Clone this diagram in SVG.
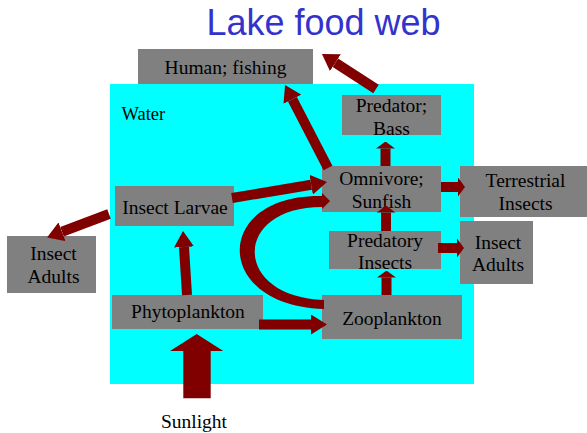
<svg xmlns="http://www.w3.org/2000/svg" width="587" height="433" viewBox="0 0 587 433">
<style>
.box{fill:#808080}
.t{font-family:"Liberation Serif","Times New Roman",serif;font-size:19.5px;fill:#000;text-anchor:middle}
.c{stroke:#800000;stroke-width:10;fill:none}
.f{fill:#800000}
</style>
<defs>
<marker id="ah" markerUnits="userSpaceOnUse" markerWidth="16" markerHeight="20" refX="0" refY="10" orient="auto" viewBox="0 0 16 20"><path d="M0 0 L16 10 L0 20 z" fill="#800000"/></marker>
<marker id="as" markerUnits="userSpaceOnUse" markerWidth="7" markerHeight="19" refX="0" refY="9.5" orient="auto" viewBox="0 0 7 19"><path d="M0 0 L7 9.5 L0 19 z" fill="#800000"/></marker>
</defs>
<rect width="587" height="433" fill="#fff"/>
<text x="323.5" y="35" font-family="Liberation Sans, Arial, sans-serif" font-size="36" fill="#3333cc" text-anchor="middle">Lake food web</text>
<g id="water">
<rect x="110" y="84" width="364" height="300" fill="#00ffff"/>
<text x="121.5" y="120" font-family="Liberation Serif, serif" font-size="18.5" fill="#000">Water</text>
</g>
<g id="human"><rect class="box" x="138" y="49" width="175" height="35"/><text class="t" x="225.5" y="74">Human; fishing</text></g>
<g id="bass"><rect class="box" x="342" y="95" width="99" height="40"/><text class="t" x="391.5" y="112">Predator;</text><text class="t" x="391.5" y="134.5">Bass</text></g>
<g id="omnivore"><rect class="box" x="322" y="166" width="119" height="46"/><text class="t" x="381.5" y="185">Omnivore;</text><text class="t" x="381.5" y="207.5">Sunfish</text></g>
<g id="terrestrial"><rect class="box" x="460" y="166" width="127" height="51"/><text class="t" x="525.5" y="187">Terrestrial</text><text class="t" x="525.5" y="210">Insects</text></g>
<g id="predatory"><rect class="box" x="329" y="231" width="112" height="38"/><text class="t" x="385" y="246.5">Predatory</text><text class="t" x="385" y="269">Insects</text></g>
<g id="adultsR"><rect class="box" x="460" y="221" width="73" height="63"/><text class="t" x="498" y="248.5">Insect</text><text class="t" x="498" y="271">Adults</text></g>
<g id="zooplankton"><rect class="box" x="322" y="295" width="140" height="44"/><text class="t" x="392" y="325">Zooplankton</text></g>
<g id="phytoplankton"><rect class="box" x="112" y="295" width="151" height="34"/><text class="t" x="188" y="318">Phytoplankton</text></g>
<g id="larvae"><rect class="box" x="115" y="186" width="119" height="40"/><text class="t" x="175" y="213.5">Insect Larvae</text></g>
<g id="adultsL"><rect class="box" x="7" y="236" width="89" height="57"/><text class="t" x="53.5" y="259.5">Insect</text><text class="t" x="53.5" y="283">Adults</text></g>
<g id="sunlight"><text class="t" x="194" y="428">Sunlight</text></g>
<g id="connectors">
<line class="c" x1="376" y1="89" x2="335.4" y2="62.7" marker-end="url(#ah)"/>
<line class="c" x1="328" y1="168" x2="292.4" y2="99.2" marker-end="url(#ah)"/>
<line class="c" x1="232" y1="198" x2="311.2" y2="184.7" marker-end="url(#ah)"/>
<line class="c" x1="109" y1="214" x2="62" y2="231.8" marker-end="url(#ah)"/>
<line class="c" x1="187" y1="295" x2="184" y2="247" marker-end="url(#ah)"/>
<line class="c" x1="259" y1="324.5" x2="311" y2="324.5" marker-end="url(#ah)"/>
<line class="c" x1="385.5" y1="166" x2="385.5" y2="148.5" marker-end="url(#as)"/>
<line class="c" x1="386" y1="231" x2="386" y2="212.5" marker-end="url(#as)"/>
<line class="c" x1="386.5" y1="295" x2="386.5" y2="277.5" marker-end="url(#as)"/>
<line class="c" x1="441" y1="187" x2="458" y2="187" marker-end="url(#as)"/>
<line class="c" x1="438" y1="248" x2="457" y2="248" marker-end="url(#as)"/>
<path class="f" d="M324 309 C212 306 212 194 322 196 L322 193 L330 201 L322 209 L322 207 C232 207 232 297 324 300 Z"/>
<polygon class="f" points="183.3,398.3 183.3,351 170,351 196.7,334 223.3,351 210.7,351 210.7,398.3"/>
</g>
</svg>
